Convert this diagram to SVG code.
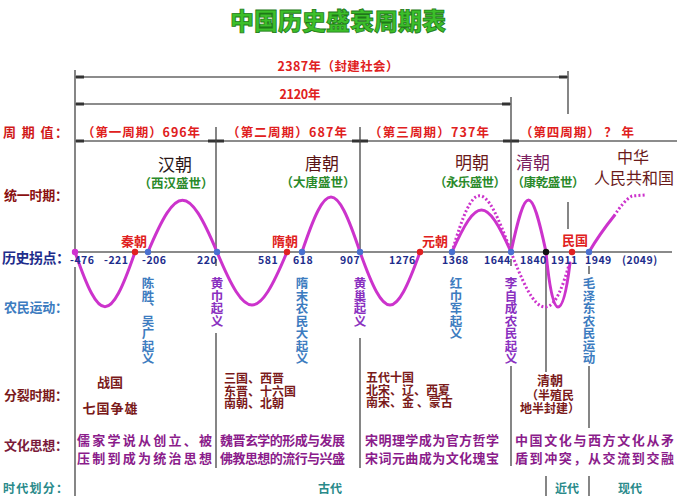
<svg xmlns="http://www.w3.org/2000/svg" width="677" height="496" viewBox="0 0 677 496">
<style>
text{font-family:"Noto Sans CJK SC","Noto Sans",sans-serif;font-weight:bold}
.ln{stroke:#444;stroke-width:1.3;fill:none}
.dim{stroke:#666;stroke-width:1.5;fill:none}
.tk{stroke:#333;stroke-width:3}
.axis{stroke:#8a8a8a;stroke-width:2.2}
.cv{stroke:#cc33cc;stroke-width:3;fill:none;stroke-linecap:round}
.dt{stroke:#cc33cc;stroke-width:3;fill:none;stroke-dasharray:2 2.2}
.red{fill:#e02020;font-size:12.5px}
.lab{font-size:13px}
.num{fill:#1e2d8c;font-size:10.5px;letter-spacing:0.5px}
.era{fill:#e02020;font-size:13px}
.dyn{font-size:17px;font-weight:normal}
.grn{fill:#2a8a2a;font-size:12.5px}
.vb,.vp{font-size:12.5px;writing-mode:vertical-rl;text-orientation:upright}
.vb{fill:#3d7cc0}
.vp{fill:#8a30c0}
.split{fill:#7a1a1a;font-size:12px}
.cul{fill:#8b1c8b;font-size:13px}
.age{fill:#2a8a8a;font-size:12px}
</style>
<rect width="677" height="496" fill="#fff"/>

<g id="title">
<text x="338" y="30" text-anchor="middle" style="font-size:24px;font-weight:900;fill:#3cbf2a;stroke:#1e7a18;stroke-width:0.8">中国历史盛衰周期表</text>
</g>

<g id="dimensions">
<line class="ln" x1="75" y1="70" x2="75" y2="252"/>
<line class="ln" x1="75" y1="267" x2="75" y2="496"/>
<line class="dim" x1="75" y1="77" x2="568" y2="77"/>
<line class="tk" x1="76" y1="77" x2="84" y2="77"/>
<line class="tk" x1="559" y1="77" x2="567" y2="77"/>
<line class="ln" x1="568" y1="71" x2="568" y2="114"/>
<text class="red" x="338" y="71" text-anchor="middle" textLength="121">2387年（封建社会）</text>
<line class="dim" x1="75" y1="104" x2="511" y2="104"/>
<line class="tk" x1="76" y1="104" x2="84" y2="104"/>
<line class="tk" x1="502" y1="104" x2="510" y2="104"/>
<text class="red" x="300" y="99" text-anchor="middle" textLength="41">2120年</text>
</g>

<g id="row-labels">
<text class="lab" x="3" y="137" fill="#d01818" textLength="65">周 期 值：</text>
<text class="lab" x="4" y="200" fill="#8a1010" textLength="64">统一时期：</text>
<text class="lab" x="2" y="263" fill="#1e2d8c" style="font-size:14px" textLength="68">历史拐点：</text>
<text class="lab" x="4" y="312" fill="#3d7cc0" textLength="64">农民运动：</text>
<text class="lab" x="4" y="400" fill="#7a1a1a" textLength="64">分裂时期：</text>
<text class="lab" x="4" y="450" fill="#7a1a3a" textLength="64">文化思想：</text>
<text class="lab" x="3" y="493" fill="#2a8a8a" style="font-size:12px" textLength="65">时代划分：</text>
</g>

<g id="cycles">
<line class="dim" x1="75" y1="141" x2="677" y2="141"/>
<line class="tk" x1="76" y1="141" x2="84" y2="141"/>
<line class="tk" x1="208" y1="141" x2="224" y2="141"/>
<line class="tk" x1="352" y1="141" x2="368" y2="141"/>
<line class="tk" x1="503" y1="141" x2="519" y2="141"/>
<text class="red" x="82" y="137" textLength="118">（第一周期）696年</text>
<text class="red" x="227" y="137" textLength="120">（第二周期）687年</text>
<text class="red" x="369" y="137" textLength="120">（第三周期）737年</text>
<text class="red" x="520" y="137" textLength="114">（第四周期） ？ 年</text>
</g>

<g id="dividers">
<line class="ln" x1="216" y1="127" x2="216" y2="252"/>
<line class="ln" x1="216" y1="333" x2="216" y2="468"/>
<line class="ln" x1="360" y1="127" x2="360" y2="252"/>
<line class="ln" x1="360" y1="338" x2="360" y2="468"/>
<line class="ln" x1="511" y1="97" x2="511" y2="252"/>
<line class="ln" x1="511" y1="366" x2="511" y2="466"/>
<line class="ln" x1="568" y1="202" x2="568" y2="229"/>
<line class="ln" x1="546" y1="252" x2="546" y2="372"/>
<line class="ln" x1="589" y1="366" x2="589" y2="428"/>
<line class="ln" x1="546" y1="476" x2="546" y2="496"/>
<line class="ln" x1="589" y1="476" x2="589" y2="496"/>
<line class="ln" x1="216" y1="259" x2="216" y2="266"/>
<line class="ln" x1="511" y1="259" x2="511" y2="266"/>
<line class="ln" x1="589" y1="266" x2="589" y2="274"/>
</g>

<g id="axis">
<line class="axis" x1="72" y1="252" x2="672" y2="252"/>
</g>

<g id="curve">
<path class="cv" d="M75,252 C100,325 110,325 135,252"/>
<path class="cv" d="M148,252 C177,183 188,183 217,252 C246.5,322.7 257.5,322.7 287,252"/>
<path class="cv" d="M302,252 C326.5,178.7 335.5,178.7 360,252 C385.3,322.7 394.7,322.7 420,252"/>
<path class="cv" d="M452,252 C477,196 486,196 511,252"/>
<path class="dt" d="M452,252 C474,177 484,177 511,252"/>
<path class="cv" d="M511,252 C525.8,182.7 531.2,182.7 546,252 C549,285 553,307 558,307 C563,307 567,288 570,263"/>
<path class="dt" d="M511,252 C522,280 533,307 545,307 C556,307 563,285 569,265"/>
<path class="cv" d="M589,252 C596,240 606,226 614,216"/>
<path class="dt" d="M614,216 C620,207 626,199 632,196 L645,195"/>
</g>

<g id="points">
<circle cx="75" cy="252" r="3.2" fill="#d030d0"/>
<circle cx="135" cy="252" r="3.2" fill="#e02020"/>
<circle cx="287" cy="252" r="3.2" fill="#e02020"/>
<circle cx="420" cy="252" r="3.2" fill="#e02020"/>
<circle cx="572" cy="252" r="3.2" fill="#e02020"/>
<circle cx="148" cy="252" r="3.2" fill="#4a70d0"/>
<circle cx="217" cy="252" r="3.2" fill="#4a70d0"/>
<circle cx="302" cy="252" r="3.2" fill="#4a70d0"/>
<circle cx="360" cy="252" r="3.2" fill="#4a70d0"/>
<circle cx="452" cy="252" r="3.2" fill="#4a70d0"/>
<circle cx="511" cy="252" r="3.2" fill="#4a70d0"/>
<circle cx="589" cy="252" r="3.2" fill="#4a70d0"/>
<circle cx="546" cy="252" r="3.2" fill="#111"/>
<text class="num" x="70" y="264">-476</text>
<text class="num" x="104" y="264">-221</text>
<text class="num" x="142" y="264">-206</text>
<text class="num" x="197" y="264">220</text>
<text class="num" x="258" y="264">581</text>
<text class="num" x="293" y="264">618</text>
<text class="num" x="340" y="264">907</text>
<text class="num" x="389" y="264">1276</text>
<text class="num" x="442" y="264">1368</text>
<text class="num" x="484" y="264">1644</text>
<text class="num" x="520" y="264">1840</text>
<text class="num" x="551" y="264">1911</text>
<text class="num" x="585" y="264">1949</text>
<text class="num" x="622" y="264">(2049)</text>
<text class="era" x="134" y="246" text-anchor="middle">秦朝</text>
<text class="era" x="285" y="246" text-anchor="middle">隋朝</text>
<text class="era" x="435" y="246" text-anchor="middle">元朝</text>
<text class="era" x="575" y="245" text-anchor="middle">民国</text>
</g>

<g id="dynasties">
<text class="dyn" x="175" y="171" text-anchor="middle" fill="#2b1818">汉朝</text>
<text class="grn" x="176" y="188" text-anchor="middle" textLength="75">（西汉盛世）</text>
<text class="dyn" x="322" y="170" text-anchor="middle" fill="#5a1414">唐朝</text>
<text class="grn" x="318" y="187" text-anchor="middle" textLength="75">（大唐盛世）</text>
<text class="dyn" x="472" y="169" text-anchor="middle" fill="#6a1a1a">明朝</text>
<text class="grn" x="470" y="187" text-anchor="middle" textLength="72">（永乐盛世）</text>
<text class="dyn" x="533" y="169" text-anchor="middle" fill="#7a2060">清朝</text>
<text class="grn" x="548" y="187" text-anchor="middle" textLength="73">（康乾盛世）</text>
<text class="dyn" x="633" y="163" text-anchor="middle" fill="#6a1a1a" style="font-size:16px">中华</text>
<text class="dyn" x="634" y="184" text-anchor="middle" fill="#6a1a1a" style="font-size:16px" textLength="80">人民共和国</text>
</g>

<g id="peasants">
<text class="vb" x="148" y="277">陈胜、吴广起义</text>
<text class="vp" x="217" y="277">黄巾起义</text>
<text class="vb" x="302" y="277">隋末农民大起义</text>
<text class="vp" x="360" y="277">黄巢起义</text>
<text class="vb" x="456" y="277">红巾军起义</text>
<text class="vp" x="511" y="277">李自成农民起义</text>
<text class="vb" x="589" y="277">毛泽东农民运动</text>
</g>

<g id="splits">
<text class="split" x="110" y="387" text-anchor="middle" style="font-size:13px">战国</text>
<text class="split" x="110" y="413" text-anchor="middle" style="font-size:13px" textLength="55">七国争雄</text>
<text class="split" x="224" y="383">三国、西晋</text>
<text class="split" x="224" y="395.5">东晋、十六国</text>
<text class="split" x="224" y="408">南朝、北朝</text>
<text class="split" x="366" y="382">五代十国</text>
<text class="split" x="366" y="394.5">北宋、辽、西夏</text>
<text class="split" x="366" y="407">南宋、金 、蒙古</text>
<text class="split" x="550" y="385" text-anchor="middle" style="font-size:13px">清朝</text>
<text class="split" x="550" y="400" text-anchor="middle">（半殖民</text>
<text class="split" x="550" y="413" text-anchor="middle">地半封建）</text>
</g>

<g id="culture">
<text class="cul" x="77" y="445" textLength="135">儒家学说从创立、被</text>
<text class="cul" x="77" y="463" textLength="135">压制到成为统治思想</text>
<text class="cul" x="220" y="445" textLength="125">魏晋玄学的形成与发展</text>
<text class="cul" x="220" y="463" textLength="125">佛教思想的流行与兴盛</text>
<text class="cul" x="365" y="445" textLength="134">宋明理学成为官方哲学</text>
<text class="cul" x="365" y="463" textLength="134">宋词元曲成为文化瑰宝</text>
<text class="cul" x="515" y="445" textLength="159">中国文化与西方文化从矛</text>
<text class="cul" x="515" y="463" textLength="159">盾到冲突，从交流到交融</text>
</g>

<g id="ages">
<text class="age" x="330" y="493" text-anchor="middle">古代</text>
<text class="age" x="567" y="493" text-anchor="middle">近代</text>
<text class="age" x="630" y="493" text-anchor="middle">现代</text>
</g>
</svg>
